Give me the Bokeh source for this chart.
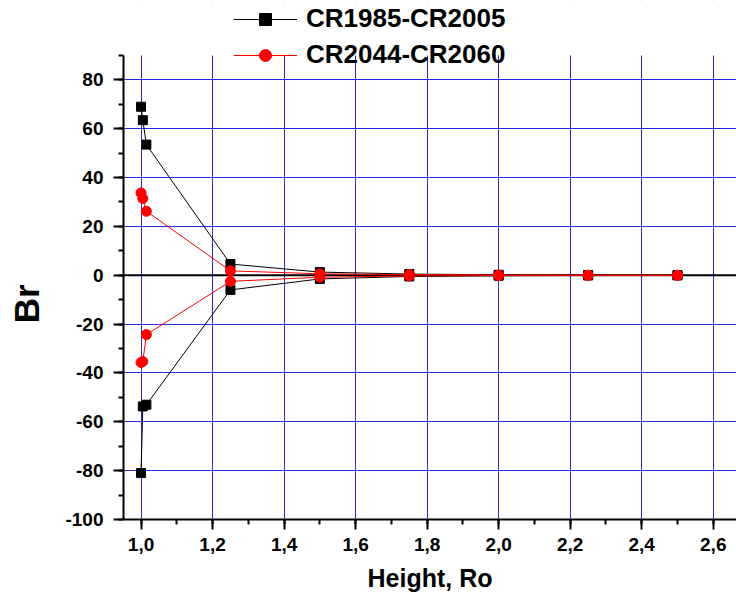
from bokeh.plotting import figure
from bokeh.models import (Range1d, SingleIntervalTicker, CustomJSTickFormatter, Span,
                          Legend, LegendItem, BoxAnnotation)
from bokeh.embed import file_html
from bokeh.resources import INLINE

# Heights (in solar radii)
heights = [1.0, 1.005, 1.015, 1.25, 1.5, 1.75, 2.0, 2.25, 2.5]

# CR1985-CR2005 : positive and negative branches of Br
br_1985_pos = [69.0, 63.5, 53.5, 4.6, 1.3, 0.5, 0.2, 0.1, 0.05]
br_1985_neg = [-81.0, -53.7, -53.0, -6.0, -1.5, -0.5, -0.2, -0.1, -0.05]

# CR2044-CR2060 : positive and negative branches of Br
br_2044_pos = [33.7, 31.4, 26.2, 1.8, 0.6, 0.3, 0.1, 0.05, 0.02]
br_2044_neg = [-35.7, -35.3, -24.3, -2.5, -0.8, -0.3, -0.1, -0.05, -0.02]

series_labels = ["CR1985-CR2005", "CR2044-CR2060"]

FONT = "Liberation Sans"
GRID = "#2a2ae0"
Y_MIN, Y_MAX = -100, 90

# frame spans the full height so the legend (above the axes) is not clipped
p = figure(width=736, height=603, output_backend="svg", toolbar_location=None,
           x_range=Range1d(0.951, 2.665), y_range=Range1d(Y_MIN, 112.5),
           min_border_left=123, min_border_right=0, min_border_top=0,
           min_border_bottom=84)
p.outline_line_color = None
p.background_fill_color = "white"
p.border_fill_color = "white"

# axes
p.xaxis.ticker = SingleIntervalTicker(interval=0.2, num_minor_ticks=2)
p.yaxis.ticker = SingleIntervalTicker(interval=20, num_minor_ticks=2)
p.xaxis.formatter = CustomJSTickFormatter(code="return tick.toFixed(1).replace('.', ',');")
p.yaxis.formatter = CustomJSTickFormatter(code="return tick.toFixed(0);")
p.yaxis.bounds = (Y_MIN, Y_MAX)
p.xgrid.ticker = p.xaxis.ticker
p.ygrid.ticker = p.yaxis.ticker

for ax in (p.xaxis, p.yaxis):
    ax.axis_line_width = 2
    ax.axis_line_color = "black"
    ax.major_tick_line_width = 2
    ax.minor_tick_line_width = 2
    ax.major_tick_out = 10
    ax.major_tick_in = 0
    ax.minor_tick_out = 5
    ax.minor_tick_in = 0
    ax.major_label_text_font = FONT
    ax.major_label_text_font_style = "bold"
    ax.major_label_text_font_size = "19px"
    ax.major_label_text_color = "black"
    ax.axis_label_text_font = FONT
    ax.axis_label_text_font_style = "bold"
    ax.axis_label_text_color = "black"

p.xaxis.major_label_standoff = 8
p.yaxis.major_label_standoff = 10
p.xaxis.axis_label = "Height, Ro"
p.xaxis.axis_label_text_font_size = "25px"
p.xaxis.axis_label_standoff = 10
# trailing no-break spaces shift the rotated label down to the centre of the axis
p.yaxis.axis_label = "Br" + "\u00a0" * 9
p.yaxis.axis_label_text_font_size = "35px"
p.yaxis.axis_label_standoff = 16

p.xgrid.grid_line_color = GRID
p.ygrid.grid_line_color = GRID
p.xgrid.grid_line_width = 1
p.ygrid.grid_line_width = 1

# blank area above the top of the y axis
p.add_layout(BoxAnnotation(bottom=Y_MAX, fill_color="white", fill_alpha=1,
                           line_alpha=0, level="underlay"))

zero = Span(location=0, dimension="width", line_color="black", line_width=2,
            level="underlay")
p.add_layout(zero)

# series 1 (black squares)
l1a = p.line(heights, br_1985_pos, line_color="black", line_width=1)
l1b = p.line(heights, br_1985_neg, line_color="black", line_width=1)
s1a = p.scatter(heights, br_1985_pos, marker="square", size=9,
                fill_color="black", line_color="black")
s1b = p.scatter(heights, br_1985_neg, marker="square", size=9,
                fill_color="black", line_color="black")

# series 2 (red circles)
l2a = p.line(heights, br_2044_pos, line_color="red", line_width=1)
l2b = p.line(heights, br_2044_neg, line_color="red", line_width=1)
s2a = p.scatter(heights, br_2044_pos, marker="circle", size=10,
                fill_color="red", line_color="red")
s2b = p.scatter(heights, br_2044_neg, marker="circle", size=10,
                fill_color="red", line_color="red")

legend = Legend(items=[LegendItem(label=series_labels[0], renderers=[l1a, s1a]),
                       LegendItem(label=series_labels[1], renderers=[l2a, s2a])],
                location=(110, 449), orientation="vertical",
                glyph_width=64, glyph_height=30, label_height=30,
                label_standoff=9, spacing=5, padding=0, margin=0,
                border_line_alpha=0, background_fill_alpha=0,
                label_text_font=FONT, label_text_font_style="bold",
                label_text_font_size="26px", label_text_color="black")
p.add_layout(legend)

open("out.html", "w").write(file_html(p, INLINE))
